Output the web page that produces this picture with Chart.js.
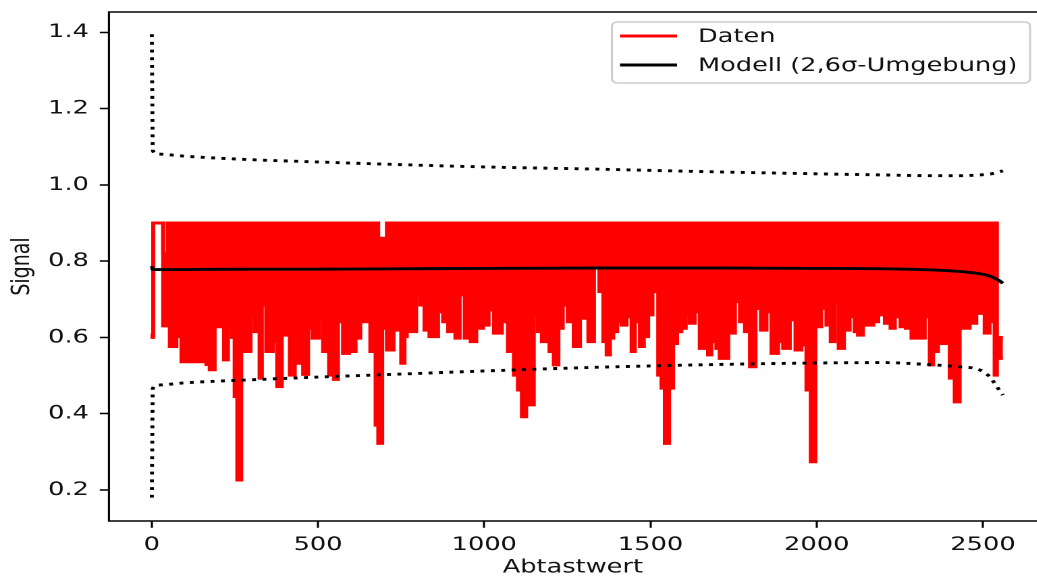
<!DOCTYPE html>
<html>
<head>
<meta charset="utf-8">
<script src="https://cdn.jsdelivr.net/npm/chart.js@4.4.1/dist/chart.umd.min.js"></script>
<style>
  html, body { margin: 0; padding: 0; background: #fff; overflow: hidden; }
  /* the reference figure is stretched horizontally */
  #wrap { width: 768px; height: 577px; transform: scaleX(1.35); transform-origin: 0 0; }
</style>
</head>
<body>
<div id="wrap"><canvas id="signalChart" width="768" height="577"></canvas></div>
<script>
const xTicks = [0, 500, 1000, 1500, 2000, 2500];
const yTicks = [0.2, 0.4, 0.6, 0.8, 1.0, 1.2, 1.4];
const lastSample = 2560;

// Daten: lower edge of the red trace, per block of samples (block start -> minimum)
const dataLowX = [0, 2, 4, 34, 48, 54, 74, 89, 109, 119, 134, 144, 157, 164, 174, 189, 217, 229, 241, 249,
  257, 269, 279, 297, 309, 324, 331, 344, 364, 377, 391, 415, 430, 440, 455, 470, 483, 503, 515, 533,
  548, 560, 575, 593, 603, 613, 627, 637, 647, 657, 673, 681, 693, 707, 727, 737, 750, 760, 767, 795,
  807, 820, 835, 861, 876, 891, 903, 913, 926, 941, 959, 976, 996, 1013, 1029, 1053, 1071, 1089, 1101, 1113,
  1126, 1136, 1149, 1161, 1173, 1186, 1196, 1209, 1223, 1236, 1251, 1269, 1288, 1313, 1330, 1346, 1358, 1368, 1378, 1388,
  1400, 1413, 1428, 1443, 1453, 1468, 1480, 1493, 1506, 1523, 1533, 1543, 1556, 1568, 1580, 1593, 1606, 1618, 1633, 1648,
  1663, 1673, 1683, 1698, 1708, 1734, 1754, 1769, 1784, 1799, 1816, 1832, 1849, 1864, 1884, 1899, 1919, 1936, 1954, 1969,
  1982, 1996, 2014, 2029, 2042, 2054, 2066, 2082, 2099, 2114, 2124, 2139, 2170, 2185, 2205, 2222, 2235, 2252, 2268, 2285,
  2300, 2310, 2325, 2340, 2350, 2365, 2375, 2400, 2415, 2430, 2440, 2460, 2480, 2505, 2520, 2535, 2542];
const dataLowY = [0.61, 0.60, 0.90, 0.63, 0.76, 0.576, 0.602, 0.536, 0.563, 0.536, 0.563, 0.536, 0.563, 0.529, 0.515, 0.628, 0.541, 0.624, 0.60, 0.445,
  0.226, 0.641, 0.563, 0.659, 0.615, 0.493, 0.685, 0.563, 0.589, 0.471, 0.606, 0.501, 0.615, 0.532, 0.503, 0.624, 0.598, 0.650, 0.563, 0.501,
  0.490, 0.641, 0.558, 0.676, 0.563, 0.598, 0.641, 0.659, 0.641, 0.563, 0.370, 0.322, 0.624, 0.567, 0.672, 0.619, 0.532, 0.602, 0.615, 0.711,
  0.685, 0.619, 0.602, 0.667, 0.641, 0.615, 0.737, 0.598, 0.711, 0.598, 0.589, 0.624, 0.632, 0.672, 0.611, 0.641, 0.563, 0.501, 0.462, 0.392,
  0.632, 0.423, 0.659, 0.615, 0.589, 0.676, 0.563, 0.528, 0.624, 0.685, 0.641, 0.576, 0.650, 0.589, 0.79, 0.720, 0.589, 0.554, 0.598, 0.615,
  0.641, 0.632, 0.654, 0.563, 0.641, 0.576, 0.602, 0.659, 0.720, 0.501, 0.467, 0.322, 0.467, 0.584, 0.615, 0.624, 0.659, 0.637, 0.667, 0.571,
  0.659, 0.554, 0.589, 0.571, 0.545, 0.611, 0.694, 0.641, 0.615, 0.523, 0.676, 0.619, 0.667, 0.558, 0.589, 0.571, 0.646, 0.567, 0.580, 0.462,
  0.274, 0.628, 0.676, 0.632, 0.589, 0.694, 0.571, 0.619, 0.654, 0.615, 0.606, 0.632, 0.641, 0.659, 0.637, 0.624, 0.654, 0.628, 0.624, 0.598,
  0.659, 0.598, 0.654, 0.528, 0.563, 0.637, 0.584, 0.493, 0.431, 0.641, 0.624, 0.637, 0.663, 0.611, 0.641, 0.501, 0.545];
// upper edge of the red trace
const dataHighX = [0, 4, 34, 48, 681, 707, 2542];
const dataHighY = [0.61, 0.90, 0.82, 0.90, 0.86, 0.90, 0.60];

// Modell and its 2,6-sigma band
const modelX = [0, 3, 15, 100, 300, 500, 750, 1000, 1350, 1700, 2000, 2200, 2350, 2430, 2490, 2520, 2545, 2560];
const modelY = [0.787, 0.778, 0.778, 0.778, 0.779, 0.779, 0.780, 0.781, 0.782, 0.782, 0.781, 0.780, 0.777, 0.773, 0.767, 0.761, 0.751, 0.742];
const upperY = [1.395, 1.090, 1.081, 1.075, 1.066, 1.060, 1.053, 1.047, 1.041, 1.034, 1.029, 1.026, 1.024, 1.024, 1.026, 1.028, 1.033, 1.037];
const lowerY = [0.180, 0.466, 0.475, 0.481, 0.489, 0.496, 0.504, 0.512, 0.522, 0.529, 0.533, 0.534, 0.528, 0.523, 0.515, 0.497, 0.467, 0.449];

function steps(xs, ys) {
    const pts = xs.map((x, i) => ({ x: x, y: ys[i] }));
    pts.push({ x: lastSample, y: ys[ys.length - 1] });
    return pts;
}

function curve(ys) {
    return modelX.map((x, i) => ({ x: x, y: ys[i] }));
}

const frame = {
    id: 'frame',
    afterDatasetsDraw(chart) {
        const { ctx, chartArea: a } = chart;
        ctx.save();
        ctx.strokeStyle = '#000';
        ctx.lineWidth = 1.55;
        ctx.beginPath();
        ctx.moveTo(a.right + 2, a.top);
        ctx.lineTo(a.left, a.top);
        ctx.lineTo(a.left, a.bottom);
        ctx.lineTo(a.right + 2, a.bottom);
        ctx.stroke();
        ctx.restore();
    }
};

const legendBox = {
    id: 'legendBox',
    afterDraw(chart) {
        const ctx = chart.ctx;
        const ds = chart.data.datasets;
        const entries = [[ds[0].label, '#ff0000'], [ds[2].label, '#000000']];
        ctx.save();
        ctx.beginPath();
        ctx.roundRect(453.3, 22, 309.7, 61, 4);
        ctx.fillStyle = 'rgba(255,255,255,0.8)';
        ctx.fill();
        ctx.strokeStyle = '#cccccc';
        ctx.lineWidth = 1.5;
        ctx.stroke();
        ctx.font = '19px "DejaVu Sans"';
        ctx.textBaseline = 'middle';
        entries.forEach(([text, color], i) => {
            const y = 36 + i * 29;
            ctx.strokeStyle = color;
            ctx.lineWidth = 2.9;
            ctx.beginPath();
            ctx.moveTo(459.3, y);
            ctx.lineTo(501.5, y);
            ctx.stroke();
            ctx.fillStyle = '#111';
            ctx.fillText(text, 517, y + 1);
        });
        ctx.restore();
    }
};

Chart.defaults.font.family = '"DejaVu Sans", sans-serif';
Chart.defaults.font.size = 19;
Chart.defaults.color = '#111';

const ctx = document.getElementById('signalChart').getContext('2d');
new Chart(ctx, {
    type: 'line',
    data: {
        datasets: [
            {
                label: 'Daten',
                data: steps(dataHighX, dataHighY),
                stepped: true,
                borderColor: '#ff0000',
                backgroundColor: '#ff0000',
                borderWidth: 2.9,
                pointRadius: 0,
                fill: '+1',
                order: 3
            },
            {
                label: 'Daten (Minimum)',
                data: steps(dataLowX, dataLowY),
                stepped: true,
                borderColor: '#ff0000',
                borderWidth: 2.9,
                pointRadius: 0,
                fill: false,
                order: 3
            },
            {
                label: 'Modell (2,6σ-Umgebung)',
                data: curve(modelY),
                borderColor: '#000000',
                borderWidth: 2.9,
                pointRadius: 0,
                cubicInterpolationMode: 'monotone',
                fill: false,
                order: 1
            },
            {
                label: 'obere Grenze',
                data: curve(upperY),
                borderColor: '#000000',
                borderWidth: 2.9,
                borderDash: [2.9, 4.8],
                pointRadius: 0,
                cubicInterpolationMode: 'monotone',
                fill: false,
                order: 1
            },
            {
                label: 'untere Grenze',
                data: curve(lowerY),
                borderColor: '#000000',
                borderWidth: 2.9,
                borderDash: [2.9, 4.8],
                pointRadius: 0,
                cubicInterpolationMode: 'monotone',
                fill: false,
                order: 1
            }
        ]
    },
    options: {
        responsive: false,
        devicePixelRatio: 2,
        animation: false,
        layout: { padding: { top: 12, left: 0, right: 0, bottom: 0 } },
        plugins: {
            legend: { display: false },
            tooltip: { enabled: false }
        },
        scales: {
            x: {
                type: 'linear',
                min: -129,
                max: 2662,
                afterBuildTicks: s => { s.ticks = xTicks.map(v => ({ value: v })); },
                afterFit: s => { s.height = 56; s.paddingLeft = 0; s.paddingRight = 0; },
                ticks: { padding: 6, color: '#111', callback: v => String(v) },
                grid: { drawOnChartArea: false, tickLength: 6.8, tickWidth: 1.55, tickColor: '#000' },
                border: { display: false },
                title: { display: true, text: 'Abtastwert', font: { size: 19, lineHeight: 1 }, padding: { top: 0, bottom: 0 } }
            },
            y: {
                min: 0.1187,
                max: 1.4532,
                afterBuildTicks: s => { s.ticks = yTicks.map(v => ({ value: v })); },
                afterFit: s => { s.width = 80.7; s.paddingTop = 0; s.paddingBottom = 0; },
                ticks: { padding: 8, color: '#111', callback: v => v.toFixed(1) },
                grid: { drawOnChartArea: false, tickLength: 6.8, tickWidth: 1.55, tickColor: '#000' },
                border: { display: false },
                title: { display: true, text: 'Signal', font: { size: 19, lineHeight: 1 }, padding: { top: 7, bottom: 0 } }
            }
        }
    },
    plugins: [frame, legendBox]
});
</script>
</body>
</html>
